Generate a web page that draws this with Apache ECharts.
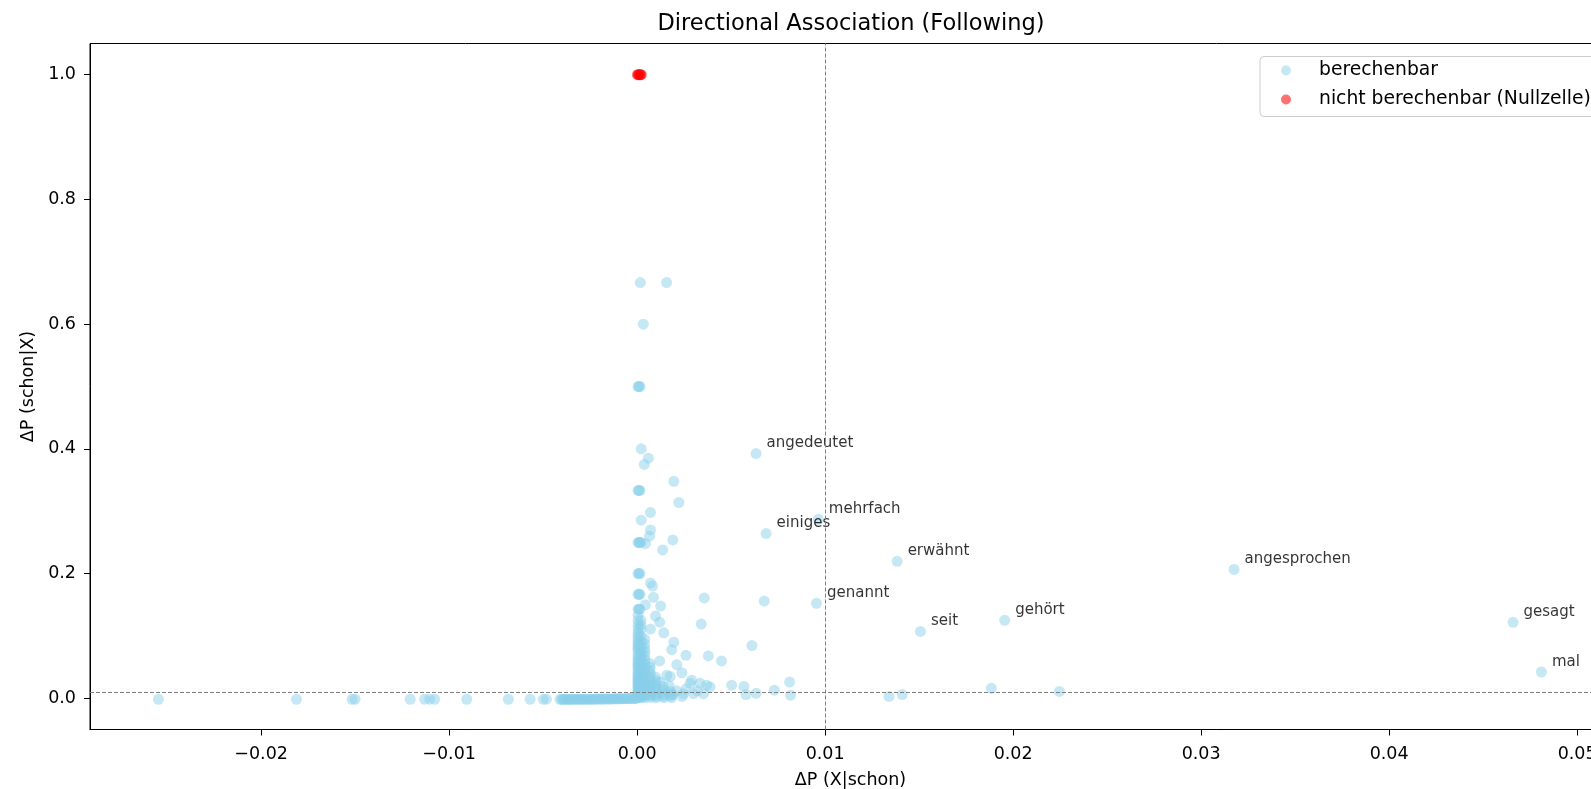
<!DOCTYPE html>
<html><head><meta charset="utf-8">
<script src="https://cdn.jsdelivr.net/npm/echarts@6/dist/echarts.min.js"></script>
<style>html,body{margin:0;padding:0;background:#fff}#chart{width:1591px;height:789px}</style>
</head><body><div id="chart"></div>
<script>
// ---------- data ----------
const xTicks = [-0.02, -0.01, 0.00, 0.01, 0.02, 0.03, 0.04, 0.05];
const yTicks = [0.0, 0.2, 0.4, 0.6, 0.8, 1.0];
const thresholdX = 0.01;
const thresholdY = 0.01;

// computable points, negative side, sparse
const negativeTail = [
  [-0.02546,-0.0015],[-0.01812,-0.0015],[-0.01516,-0.0015],[-0.01500,-0.0015],
  [-0.01207,-0.0015],[-0.01130,-0.0015],[-0.01103,-0.0014],[-0.01077,-0.0015],
  [-0.00906,-0.0015],[-0.00685,-0.0015],[-0.00569,-0.0015],[-0.00499,-0.0015],[-0.00482,-0.0013]
];
// computable points, dense band just left of zero
const negativeBand = [
  [-0.00410,-0.0016],[-0.00401,-0.0017],[-0.00393,-0.0015],[-0.00386,-0.0016],[-0.00377,-0.0016],
  [-0.00369,-0.0015],[-0.00360,-0.0017],[-0.00353,-0.0015],[-0.00343,-0.0016],[-0.00336,-0.0014],
  [-0.00326,-0.0016],[-0.00318,-0.0015],[-0.00310,-0.0015],[-0.00300,-0.0014],[-0.00293,-0.0016],
  [-0.00283,-0.0014],[-0.00276,-0.0015],[-0.00265,-0.0014],[-0.00259,-0.0013],[-0.00248,-0.0015],
  [-0.00241,-0.0013],[-0.00233,-0.0014],[-0.00223,-0.0012],[-0.00216,-0.0013],[-0.00205,-0.0012],
  [-0.00198,-0.0012],[-0.00188,-0.0011],[-0.00182,-0.0012],[-0.00171,-0.0010],[-0.00164,-0.0011],
  [-0.00154,-0.0010],[-0.00147,-0.0010],[-0.00137,-0.0009],[-0.00130,-0.0009],[-0.00120,-0.0008],
  [-0.00113,-0.0008],[-0.00102,-0.0007],[-0.00096,-0.0007],[-0.00085,-0.0006],[-0.00079,-0.0006],
  [-0.00068,-0.0005],[-0.00062,-0.0005],[-0.00051,-0.0004],[-0.00045,-0.0004],[-0.00034,-0.0003],
  [-0.00028,-0.0003],[-0.00017,-0.0002],[-0.00011,-0.0001],[-0.00004,-0.0001]
];
// computable points, dense column right of zero
const denseColumn = [
  [0.00005,0.1429],[0.00005,0.1333],[0.00005,0.1250],[0.00005,0.1176],[0.00005,0.1111],[0.00005,0.1053],
  [0.00005,0.1000],[0.00005,0.0952],[0.00005,0.0909],[0.00005,0.0870],[0.00005,0.0833],[0.00005,0.0800],
  [0.00005,0.0769],[0.00005,0.0714],[0.00005,0.0667],[0.00005,0.0625],[0.00005,0.0588],[0.00005,0.0556],
  [0.00005,0.0526],[0.00005,0.0500],[0.00005,0.0455],[0.00005,0.0417],[0.00005,0.0385],[0.00005,0.0357],
  [0.00005,0.0333],[0.00005,0.0303],[0.00005,0.0278],[0.00005,0.0250],[0.00005,0.0222],[0.00005,0.0200],
  [0.00005,0.0175],[0.00005,0.0150],[0.00005,0.0125],[0.00005,0.0100],[0.00005,0.0075],[0.00005,0.0050],
  [0.00005,0.0030],[0.00005,0.0012],
  [0.00020,0.1250],[0.00020,0.1176],[0.00021,0.1111],[0.00020,0.1000],[0.00022,0.0909],[0.00020,0.0833],
  [0.00021,0.0769],[0.00020,0.0714],[0.00022,0.0667],[0.00020,0.0625],[0.00021,0.0571],[0.00020,0.0526],
  [0.00022,0.0476],[0.00020,0.0435],[0.00021,0.0400],[0.00020,0.0370],[0.00022,0.0333],[0.00020,0.0294],
  [0.00021,0.0263],[0.00020,0.0233],[0.00022,0.0200],[0.00020,0.0170],[0.00021,0.0140],[0.00020,0.0110],
  [0.00022,0.0080],[0.00020,0.0050],[0.00021,0.0025],[0.00020,0.0008],
  [0.00040,0.0950],[0.00041,0.0870],[0.00040,0.0800],[0.00042,0.0740],[0.00040,0.0680],[0.00041,0.0620],
  [0.00040,0.0560],[0.00042,0.0500],[0.00040,0.0450],[0.00041,0.0400],[0.00040,0.0350],[0.00042,0.0300],
  [0.00040,0.0260],[0.00041,0.0220],[0.00040,0.0180],[0.00042,0.0140],[0.00040,0.0100],[0.00041,0.0065],
  [0.00040,0.0035],[0.00042,0.0010],
  [0.00068,0.0560],[0.00070,0.0500],[0.00066,0.0440],[0.00071,0.0390],[0.00068,0.0340],[0.00070,0.0290],
  [0.00067,0.0240],[0.00071,0.0200],[0.00068,0.0160],[0.00070,0.0120],[0.00067,0.0080],[0.00071,0.0045],
  [0.00068,0.0015],
  [0.00098,0.0340],[0.00102,0.0280],[0.00097,0.0230],[0.00101,0.0180],[0.00099,0.0140],[0.00102,0.0100],
  [0.00098,0.0065],[0.00101,0.0030],[0.00099,0.0008],
  [0.00138,0.0190],[0.00142,0.0140],[0.00137,0.0100],[0.00141,0.0065],[0.00139,0.0035],[0.00142,0.0010],
  [0.00178,0.0110],[0.00182,0.0070],[0.00179,0.0040],[0.00183,0.0012]
];
// computable points on discrete levels and around the column
const columnScatter = [
  [0.00017,0.6667],[0.00157,0.6667],[0.00033,0.6000],[0.00005,0.5000],[0.00010,0.5000],[0.00015,0.5000],
  [0.00022,0.4000],[0.00060,0.3850],[0.00038,0.3750],[0.00005,0.3333],[0.00010,0.3333],[0.00015,0.3333],
  [0.00195,0.3480],[0.00222,0.3140],[0.00071,0.2980],[0.00022,0.2857],[0.00071,0.2700],[0.00066,0.2600],
  [0.00005,0.2500],[0.00010,0.2500],[0.00015,0.2500],[0.00020,0.2500],[0.00190,0.2540],[0.00044,0.2480],
  [0.00136,0.2380],[0.00005,0.2000],[0.00010,0.2000],[0.00015,0.2000],[0.00071,0.1850],[0.00082,0.1800],
  [0.00005,0.1667],[0.00010,0.1667],[0.00015,0.1667],[0.00087,0.1620],[0.00044,0.1500],[0.00125,0.1480],
  [0.00010,0.1429],[0.00015,0.1429],[0.00098,0.1320],[0.00120,0.1220],[0.00071,0.1110],[0.00142,0.1050],
  [0.00195,0.0900],[0.00184,0.0780],[0.00260,0.0690],[0.00120,0.0600],[0.00211,0.0540],[0.00238,0.0410],
  [0.00176,0.0350],[0.00158,0.0370],[0.00122,0.0260],[0.00282,0.0240],[0.00335,0.0240],[0.00388,0.0180],
  [0.00246,0.0075],[0.00300,0.0075],[0.00353,0.0075],[0.00290,0.0290],[0.00370,0.0210],[0.00210,0.0120],
  [0.00260,0.0150],[0.00320,0.0120],[0.00170,0.0200],[0.00190,0.0060],[0.00240,0.0030]
];
// computable points further right (no label)
const rightScatter = [
  [0.00676,0.156],[0.00611,0.0845],[0.00357,0.161],[0.00341,0.119],[0.00449,0.060],[0.00379,0.068],
  [0.00503,0.021],[0.00568,0.019],[0.00579,0.006],[0.00633,0.008],[0.00730,0.013],[0.00811,0.026],
  [0.00816,0.005],[0.01340,0.003],[0.01410,0.006],[0.01884,0.016],[0.02246,0.011]
];
// labelled words
const labeledWords = ['angedeutet','mehrfach','einiges','erwähnt','angesprochen','genannt','seit','gehört','gesagt','mal'];
const labeledX = [0.00633,0.00964,0.00686,0.01383,0.03175,0.00954,0.01507,0.01955,0.04659,0.04810];
const labeledY = [0.3925,0.2871,0.2642,0.2196,0.2066,0.1524,0.1073,0.1251,0.1219,0.0422];
// not computable (zero cell)
const nullCellX = [0.00002,0.00007,0.00012,0.00017,0.00022];
const nullCellY = [1.0,1.0,1.0,1.0,1.0];

// ---------- chart ----------
const FONT = 'DejaVu Sans';
const plain = [].concat(negativeTail, negativeBand, denseColumn, columnScatter, rightScatter)
  .map(p => ({ value: p }));
const labeled = labeledWords.map((w, i) => ({
  name: w, value: [labeledX[i], labeledY[i]],
  label: { show: true }
}));
const nullData = nullCellX.map((x, i) => [x, nullCellY[i]]);

const fmtMinus = s => s.replace('-', '\u2212');

const chart = echarts.init(document.getElementById('chart'), null, { renderer: 'canvas' });
chart.setOption({
  animation: false,
  backgroundColor: '#fff',
  textStyle: { fontFamily: FONT, color: '#000' },
  title: {
    text: 'Directional Association (Following)',
    left: 851, top: 13, textAlign: 'center', padding: 0,
    textStyle: { fontFamily: FONT, fontSize: 22.5, fontWeight: 'normal', color: '#000' }
  },
  legend: {
    orient: 'vertical', left: 1260, top: 56.5,
    padding: [4, 24, 7, 21],
    itemWidth: 10, itemHeight: 10, itemGap: 9,
    icon: 'circle',
    backgroundColor: '#fff', borderColor: '#cccccc', borderWidth: 1, borderRadius: 4,
    formatter: n => '{g| }' + n,
    textStyle: {
      fontFamily: FONT, fontSize: 18.75, color: '#000', lineHeight: 20,
      rich: { g: { width: 23, fontSize: 18.75 } }
    },
    data: ['berechenbar', 'nicht berechenbar (Nullzelle)']
  },
  grid: {
    left: 90, right: -20, top: 43.5, bottom: 59.5,
    show: true, borderColor: '#000', borderWidth: 1, backgroundColor: 'transparent',
    outerBoundsMode: 'none'
  },
  xAxis: {
    type: 'value', min: -0.0291, max: 0.0518,
    name: 'ΔP (X|schon)', nameLocation: 'middle', nameGap: 42,
    nameTextStyle: { fontFamily: FONT, fontSize: 17.5, color: '#000' },
    axisLine: { show: true, onZero: false, lineStyle: { color: '#000', width: 1 } },
    axisTick: { show: true, length: 6, lineStyle: { color: '#000' }, customValues: xTicks },
    axisLabel: {
      show: true, fontFamily: FONT, fontSize: 17.5, color: '#000', margin: 16,
      customValues: xTicks, formatter: v => fmtMinus(Number(v).toFixed(2))
    },
    splitLine: { show: false }
  },
  yAxis: {
    type: 'value', min: -0.05, max: 1.05,
    name: 'ΔP (schon|X)', nameLocation: 'middle', nameGap: 50, nameRotate: 90,
    nameTextStyle: { fontFamily: FONT, fontSize: 17.5, color: '#000' },
    axisLine: { show: true, onZero: false, lineStyle: { color: '#000', width: 1 } },
    axisTick: { show: true, length: 6, lineStyle: { color: '#000' }, customValues: yTicks },
    axisLabel: {
      show: true, fontFamily: FONT, fontSize: 17.5, color: '#000', margin: 14,
      customValues: yTicks, formatter: v => fmtMinus(Number(v).toFixed(1))
    },
    splitLine: { show: false }
  },
  series: [
    {
      name: 'berechenbar', type: 'scatter', symbol: 'circle', symbolSize: 11,
      itemStyle: { color: 'rgba(135,206,235,0.6)', borderWidth: 0 },
      label: {
        show: false, position: 'right', distance: 5, offset: [0, -10],
        formatter: '{b}', fontFamily: FONT, fontSize: 15, color: '#000'
      },
      emphasis: { disabled: true },
      data: plain.concat(labeled),
      markLine: {
        silent: true, symbol: 'none', animation: false,
        label: { show: false },
        lineStyle: { color: '#808080', type: [4, 2], width: 1 },
        data: [{ xAxis: thresholdX }, { yAxis: thresholdY }]
      },
      z: 2
    },
    {
      name: 'nicht berechenbar (Nullzelle)', type: 'scatter', symbol: 'circle', symbolSize: 11,
      itemStyle: { color: 'rgba(255,0,0,0.7)', borderWidth: 0 },
      emphasis: { disabled: true },
      data: nullData,
      z: 3
    }
  ]
});
</script></body></html>
